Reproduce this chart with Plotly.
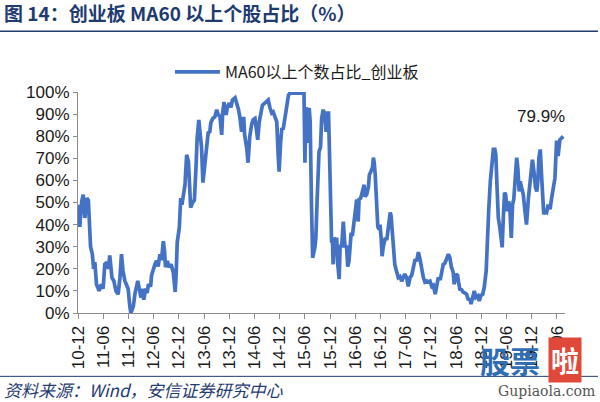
import plotly.graph_objects as go

dates = [
"2010-12-03","2010-12-14","2010-12-28","2011-01-08","2011-01-20","2011-02-03","2011-02-14","2011-02-20","2011-03-02","2011-03-15",
"2011-03-24","2011-04-02","2011-04-14","2011-05-03","2011-05-19","2011-06-01","2011-06-13","2011-06-28","2011-07-10","2011-07-19",
"2011-07-28","2011-08-04","2011-08-18","2011-09-02","2011-09-18","2011-10-01","2011-10-12","2011-10-23","2011-11-06","2011-11-18",
"2011-11-29","2011-12-12","2011-12-19","2012-01-06","2012-01-17","2012-02-07","2012-02-18","2012-03-01","2012-03-12","2012-03-21",
"2012-04-06","2012-04-15","2012-04-24","2012-05-10","2012-05-17","2012-05-28","2012-06-10","2012-06-22","2012-07-04","2012-07-16",
"2012-07-28","2012-08-10","2012-08-19","2012-08-26","2012-09-08","2012-09-20","2012-10-05","2012-10-21","2012-11-04","2012-11-10",
"2012-11-19","2012-12-04","2012-12-14","2012-12-23","2013-01-03","2013-01-14","2013-01-26","2013-02-08","2013-02-15","2013-02-24",
"2013-03-10","2013-03-23","2013-04-04","2013-04-12","2013-04-24","2013-05-07","2013-05-14","2013-05-24","2013-06-08","2013-06-19",
"2013-07-01","2013-07-13","2013-07-20","2013-08-03","2013-08-18","2013-09-01","2013-09-12","2013-09-24","2013-10-07","2013-10-14",
"2013-10-24","2013-11-08","2013-11-16","2013-12-01","2013-12-13","2013-12-24","2014-01-12","2014-01-23","2014-02-06","2014-02-17",
"2014-02-28","2014-03-07","2014-03-16","2014-03-22","2014-04-06","2014-04-16","2014-04-28","2014-05-11","2014-05-22","2014-06-05",
"2014-06-16","2014-06-25","2014-07-06","2014-07-17","2014-07-29","2014-08-15","2014-08-27","2014-09-09","2014-09-21","2014-10-04",
"2014-10-15","2014-10-26","2014-11-10","2014-11-20","2014-11-27","2014-12-08","2014-12-17","2014-12-26","2015-01-09","2015-01-20",
"2015-02-03","2015-02-14","2015-03-08","2015-04-03","2015-04-25","2015-05-26","2015-06-02","2015-06-09","2015-06-18","2015-06-24",
"2015-07-03","2015-07-10","2015-07-19","2015-07-28","2015-08-13","2015-08-20","2015-08-29","2015-09-12","2015-09-23","2015-10-01",
"2015-10-12","2015-10-24","2015-11-02","2015-11-11","2015-11-20","2015-11-24","2015-12-06","2015-12-12","2015-12-19","2015-12-23",
"2016-01-01","2016-01-13","2016-01-18","2016-01-24","2016-02-05","2016-02-12","2016-02-23","2016-03-06","2016-03-12","2016-03-19",
"2016-03-29","2016-04-07","2016-04-16","2016-04-23","2016-05-01","2016-05-12","2016-05-21","2016-06-01","2016-06-11","2016-06-18",
"2016-06-22","2016-06-28","2016-07-10","2016-07-17","2016-07-23","2016-08-04","2016-08-10","2016-08-22","2016-09-04","2016-09-11",
"2016-09-22","2016-10-03","2016-10-10","2016-10-16","2016-10-23","2016-11-04","2016-11-11","2016-11-20","2016-11-27","2016-12-05",
"2016-12-12","2016-12-20","2017-01-04","2017-01-15","2017-01-26","2017-02-09","2017-02-15","2017-02-22","2017-03-03","2017-03-14",
"2017-03-26","2017-04-08","2017-04-20","2017-05-03","2017-05-14","2017-05-25","2017-06-08","2017-06-19","2017-07-02","2017-07-14",
"2017-07-24","2017-08-08","2017-08-19","2017-09-01","2017-09-13","2017-09-24","2017-10-07","2017-10-18","2017-11-01","2017-11-12",
"2017-11-24","2017-12-07","2017-12-18","2018-01-01","2018-01-12","2018-01-23","2018-02-06","2018-02-18","2018-02-28","2018-03-12",
"2018-03-23","2018-04-06","2018-04-17","2018-04-28","2018-05-11","2018-05-18","2018-06-01","2018-06-12","2018-06-19","2018-06-28",
"2018-07-11","2018-07-22","2018-08-05","2018-08-16","2018-08-27","2018-09-10","2018-09-17","2018-09-28","2018-10-11","2018-10-22",
"2018-11-06","2018-11-16","2018-11-28","2018-12-11","2018-12-22","2019-01-05","2019-01-14","2019-01-23","2019-02-04","2019-02-15",
"2019-02-22","2019-02-26","2019-03-09","2019-03-16","2019-03-24","2019-04-03","2019-04-14","2019-04-21","2019-05-01","2019-05-08",
"2019-05-18","2019-05-26","2019-06-07","2019-06-16","2019-06-25","2019-07-06","2019-07-15","2019-07-24","2019-08-04","2019-08-14",
"2019-08-22","2019-09-01","2019-09-08","2019-09-19","2019-10-01","2019-10-13","2019-10-24","2019-11-07","2019-11-18","2019-11-25",
"2019-12-06","2019-12-17","2019-12-28","2020-01-07","2020-01-14","2020-01-22","2020-02-01","2020-02-10","2020-02-19","2020-02-26",
"2020-03-06","2020-03-18","2020-03-29","2020-04-12","2020-04-23","2020-05-06","2020-05-17","2020-05-29","2020-06-09","2020-06-22",
"2020-07-06","2020-07-16",
]

values_pct = [
49,39,50.6,53.6,43,52,51,43,30,26.6,
20,23,13,10,13,11,22,23,20,26,
20,16,14.5,10,8.5,16,26.6,19,14.5,12,
11,2.7,0,3,8.5,14.5,11,7,11,6,
11,9,13,12,17,20,22,23.6,21,26.6,
24,32.5,28,20.7,23.6,20.7,22,18.5,9.5,16,
32,38.7,52,49,53.6,58,71.6,68.5,59.5,47.7,
50,51,66,79,87.4,76,75,59,67,76,
81.5,82,86,88,88.7,92,89.6,89,80.6,90.5,
95.5,89.6,92.8,95,93,96.4,97.4,95,92,88,
82,88,88,80.6,74.8,68,79.7,85,87.4,88,
82,78.4,86.5,91,94,95,95.5,96.4,93,90.5,
91,88.7,86.5,71.6,64,77.5,83.8,83,90.5,93,
98.6,99.5,99.5,99.5,99.5,99.5,68,92.8,92,77,
92.8,86.5,50.5,25,29.7,34,50.5,73,75,88,
92,89.6,82,90.5,90.5,80.6,62.6,32.4,32,22,
34,33,34,23.4,15.3,31,29.7,41.4,35.6,29.7,
30.5,21,23.4,28,35.6,35.6,41.4,47.7,51.4,44.6,
41.4,51.4,52,53.6,55,58,52.7,53.6,57,62.6,
64,65.8,70.3,68,62.6,47.7,39,37.8,40,34,
25.7,29.7,34,33,40,45.5,44,37,31,22,
19,16,16.5,14.4,16,17.6,16,12,16,17,
19.8,24.3,23.5,27.5,24.3,19.8,16,14,14.5,14,
14.4,12,12.5,8.5,11.7,16,15,19.8,22,22.5,
24.3,26.6,25,20.7,18.5,13,17.6,17,14,10.8,
10.5,9.5,9,8.5,6.3,6,4,7,10,7,
7.7,5.4,8,8.5,11.7,19,35.6,46,59.5,67,
71.6,74,74,71.6,58,43,38.7,34,29.7,41.4,
54.5,53.6,46,50.5,48,34,49,51.5,61,70.3,
65.8,55,59.5,57,53.6,46,40,52,59.5,61,
69.4,64,56.8,55,59.5,70.3,74,62.6,53.6,44.6,
46,45.5,49,47,52,58,61,78,71,78.4,
79.3,79.9,
]

tick_dates = ["2010-12-01","2011-06-01","2011-12-01","2012-06-01","2012-12-01","2013-06-01","2013-12-01",
              "2014-06-01","2014-12-01","2015-06-01","2015-12-01","2016-06-01","2016-12-01","2017-06-01",
              "2017-12-01","2018-06-01","2018-12-01","2019-06-01","2019-12-01","2020-06-01"]
tick_labels = ["10-12","11-06","11-12","12-06","12-12","13-06","13-12","14-06","14-12","15-06",
               "15-12","16-06","16-12","17-06","17-12","18-06","18-12","19-06","19-12","20-06"]

series_name = "MA60以上个数占比_创业板"
last_label = "79.9%"
title_text = "图 14：创业板 MA60 以上个股占比（%）"
source_text = "<i>资料来源：Wind，安信证券研究中心</i>"

values = [v / 100 for v in values_pct]

LINE = "#4472C4"
NAVY = "#1F3B70"
FONT = "Liberation Sans, Arial, Noto Sans CJK SC, sans-serif"
CJK = "Noto Sans CJK SC, Liberation Sans, sans-serif"

fig = go.Figure()
fig.add_trace(go.Scatter(
    x=dates, y=values, mode="lines", name=series_name,
    line=dict(color=LINE, width=3.7),
))

W, H = 600, 402
L, R, T, B = 78, 35, 92, 88.5
pw, ph = W - L - R, H - T - B

def px2paper_x(px):
    return (px - L) / pw

def px2paper_y(py):
    return (H - B - py) / ph

fig.update_layout(
    width=W, height=H,
    margin=dict(l=L, r=R, t=T, b=B, pad=0),
    paper_bgcolor="white", plot_bgcolor="white",
    font=dict(family=FONT, size=17, color="#1a1a1a"),
    showlegend=True,
    legend=dict(
        orientation="h", x=px2paper_x(170), y=px2paper_y(72),
        xanchor="left", yanchor="middle",
        font=dict(family=CJK, size=16, color="#1a1a1a"),
        itemwidth=45, bgcolor="rgba(0,0,0,0)",
    ),
    title=dict(
        text=title_text, x=4 / W, xanchor="left", y=1 - 14 / H, yanchor="middle",
        font=dict(family=CJK, size=19, color=NAVY, weight="bold"),
    ),
    xaxis=dict(
        type="date", range=["2010-12-01", "2020-07-29"],
        tickvals=tick_dates, ticktext=tick_labels, tickangle=-90,
        ticks="outside", ticklen=5, tickcolor="#8c8c8c",
        showline=True, linecolor="#8c8c8c", linewidth=1,
        showgrid=False, zeroline=False,
        tickfont=dict(family=FONT, size=17, color="#1a1a1a"),
    ),
    yaxis=dict(
        range=[0, 1], dtick=0.1, tickformat=".0%",
        ticks="outside", ticklen=4, tickcolor="#8c8c8c",
        showline=True, linecolor="#8c8c8c", linewidth=1,
        showgrid=False, zeroline=False,
        tickfont=dict(family=FONT, size=17, color="#1a1a1a"),
    ),
)

shapes = [
    dict(type="line", xref="paper", yref="paper",
         x0=px2paper_x(0), x1=px2paper_x(598), y0=px2paper_y(31), y1=px2paper_y(31),
         line=dict(color=NAVY, width=1.5)),
    dict(type="line", xref="paper", yref="paper",
         x0=px2paper_x(0), x1=px2paper_x(598), y0=px2paper_y(377), y1=px2paper_y(377),
         line=dict(color=NAVY, width=1)),
]
fig.update_layout(shapes=shapes)

fig.add_annotation(x=dates[-1], y=px2paper_y(117), yref="paper", xref="x",
                   text=last_label, showarrow=False, xanchor="right", yanchor="middle",
                   xshift=4, font=dict(family=FONT, size=17, color="#1a1a1a"))

fig.add_annotation(x=px2paper_x(2), y=px2paper_y(390), xref="paper", yref="paper",
                   text=source_text, showarrow=False, xanchor="left", yanchor="middle",
                   font=dict(family=CJK, size=17, color=NAVY))

# watermark
fig.add_annotation(x=px2paper_x(478), y=px2paper_y(361), xref="paper", yref="paper",
                   text="<b>股票</b>", showarrow=False, xanchor="left", yanchor="middle",
                   font=dict(family=CJK, size=30, color="#2F6DB5"))
fig.add_annotation(x=px2paper_x(548), y=px2paper_y(361), xref="paper", yref="paper",
                   text="<b>啦</b>", showarrow=False, xanchor="left", yanchor="middle",
                   bgcolor="#E0483A", borderpad=2,
                   font=dict(family=CJK, size=28, color="white"))
fig.add_annotation(x=px2paper_x(597), y=px2paper_y(392), xref="paper", yref="paper",
                   text="Gupiaola.com", showarrow=False, xanchor="right", yanchor="middle",
                   font=dict(family="DejaVu Serif, serif", size=14, color="#555555"))

fig.write_html("out.html", config={"displayModeBar": False},
               post_script="document.body.style.margin='0';document.body.style.overflow='hidden';")
